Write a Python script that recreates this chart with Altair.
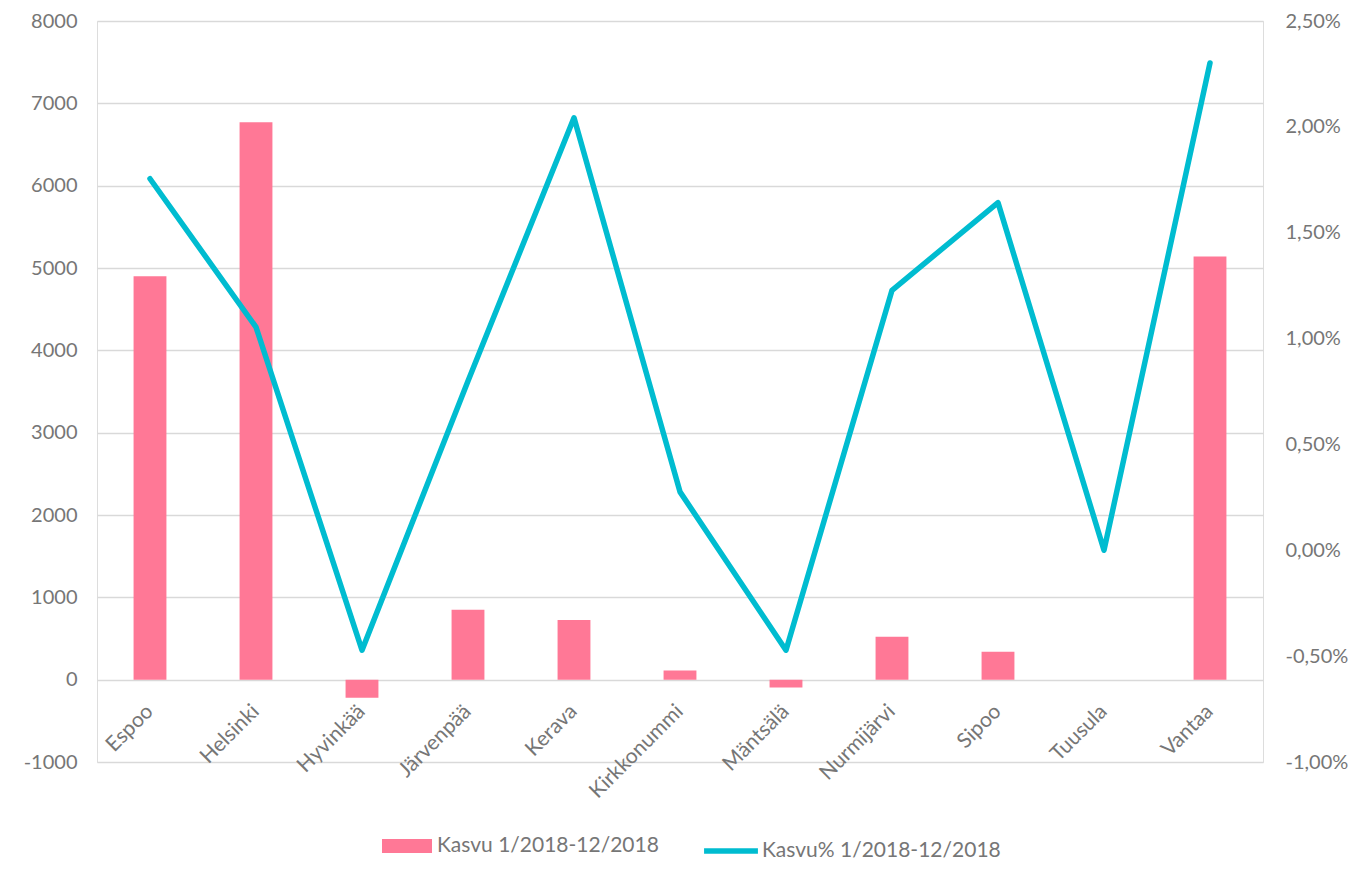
import altair as alt
import pandas as pd

kunnat = ["Espoo", "Helsinki", "Hyvinkää", "Järvenpää", "Kerava", "Kirkkonummi",
          "Mäntsälä", "Nurmijärvi", "Sipoo", "Tuusula", "Vantaa"]
kasvu = [4900, 6770, -220, 850, 725, 110, -95, 520, 340, 0, 5140]
kasvu_pct = [1.755, 1.054, -0.472, 0.80, 2.043, 0.276, -0.472, 1.228, 1.642, 0.0, 2.302]

series_bar = "Kasvu 1/2018-12/2018"
series_line = "Kasvu% 1/2018-12/2018"

left_ticks = [-1000, 0, 1000, 2000, 3000, 4000, 5000, 6000, 7000, 8000]
right_ticks = [-0.01, -0.005, 0.0, 0.005, 0.01, 0.015, 0.02, 0.025]

df = pd.DataFrame({
    "kunta": kunnat,
    "kasvu": kasvu,
    "pct": [v / 100 for v in kasvu_pct],
    "s1": series_bar,
    "s2": series_line,
})

FONT = "Lato"
GREY = "#767676"
PINK = "#FF7896"
CYAN = "#00BCD0"

x_enc = alt.X(
    "kunta:N", sort=kunnat,
    scale=alt.Scale(paddingInner=0.69, paddingOuter=0.345),
    axis=alt.Axis(title=None, labelAngle=-45, labelAlign="right", labelBaseline="middle",
                  labelFontSize=21, labelColor=GREY, labelFont=FONT, domain=False,
                  ticks=False, labelPadding=28, offset=-82, grid=False, labelLimit=0),
)

bars = alt.Chart(df).mark_bar().encode(
    x=x_enc,
    y=alt.Y("kasvu:Q",
            scale=alt.Scale(domain=[-1000, 8000], nice=False),
            axis=alt.Axis(title=None, orient="left", values=left_ticks, grid=True,
                          gridColor="#D9D9D9", gridWidth=1.5, domain=False, ticks=False,
                          labelExpr="datum.value + ''", labelFontSize=20, labelColor=GREY,
                          labelFont=FONT, labelPadding=20, labelAlign="right")),
    fill=alt.Fill("s1:N", scale=alt.Scale(domain=[series_bar], range=[PINK]),
                  legend=alt.Legend(title=None, orient="none", legendX=285, legendY=800,
                                    symbolType="M-1,-0.28H1V0.28H-1Z", symbolSize=2500,
                                    symbolStrokeWidth=0, labelFontSize=21, labelColor=GREY,
                                    labelFont=FONT, labelOffset=5, labelLimit=0)),
)

line = alt.Chart(df).mark_line(strokeWidth=5.5, strokeCap="round", strokeJoin="round").encode(
    x=x_enc,
    y=alt.Y("pct:Q",
            scale=alt.Scale(domain=[-0.01, 0.025], nice=False),
            axis=alt.Axis(title=None, orient="right", values=right_ticks, grid=False,
                          domain=False, ticks=False,
                          labelExpr="(datum.value < 0 ? '-' : '') + replace(format(abs(datum.value), '.2%'), '.', ',')",
                          labelFontSize=20, labelColor=GREY, labelFont=FONT, labelPadding=22,
                          labelAlign="left", labelBaseline="middle", labelLimit=0)),
    stroke=alt.Stroke("s2:N", scale=alt.Scale(domain=[series_line], range=[CYAN]),
                      legend=alt.Legend(title=None, orient="none", legendX=604, legendY=800,
                                        symbolType="stroke", symbolSize=2900,
                                        symbolStrokeWidth=5.5, labelFontSize=21, labelColor=GREY,
                                        labelFont=FONT, labelOffset=1, labelLimit=0)),
)

chart = alt.layer(bars, line).resolve_scale(
    y="independent", fill="independent", stroke="independent"
).properties(
    width=1166, height=741,
    autosize=alt.AutoSizeParams(type="none"),
    padding={"left": 89, "top": 13, "right": 87, "bottom": 108},
).configure_view(stroke=None).configure(background="white")

chart.save("out.html", embed_options={"renderer": "svg", "actions": False})
